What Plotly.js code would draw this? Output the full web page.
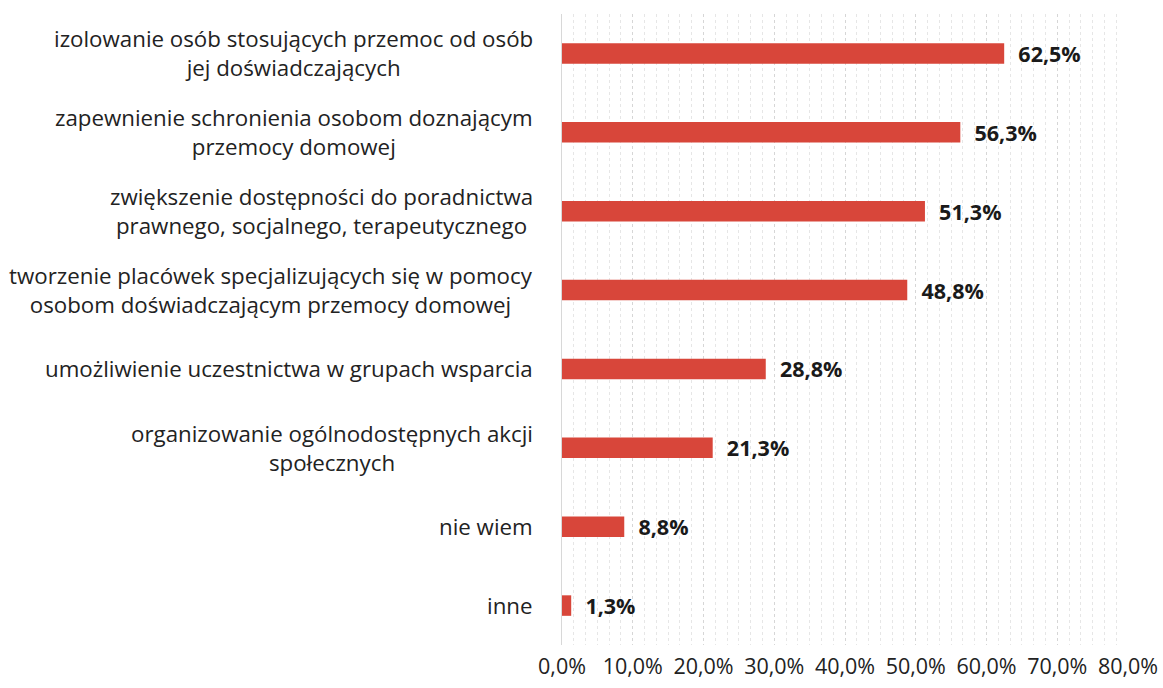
<!DOCTYPE html>
<html>
<head>
<meta charset="utf-8">
<script src="https://cdn.plot.ly/plotly-3.0.1.min.js"></script>
<style>html,body{margin:0;padding:0;background:#fff;}#chart{width:1163px;height:688px;}</style>
</head>
<body>
<div id="chart"></div>
<script>
const categories = [
  "izolowanie osób stosujących przemoc od osób<br>jej doświadczających",
  "zapewnienie schronienia osobom doznającym<br>przemocy domowej",
  "zwiększenie dostępności do poradnictwa<br>prawnego, socjalnego, terapeutycznego",
  "tworzenie placówek specjalizujących się w pomocy<br>osobom doświadczającym przemocy domowej",
  "umożliwienie uczestnictwa w grupach wsparcia",
  "organizowanie ogólnodostępnych akcji<br>społecznych",
  "nie wiem",
  "inne"
];
const values = [62.5, 56.3, 51.3, 48.8, 28.8, 21.3, 8.8, 1.3];
const tickValues = [0, 10, 20, 30, 40, 50, 60, 70, 80];
const tickLabels = ["0,0%", "10,0%", "20,0%", "30,0%", "40,0%", "50,0%", "60,0%", "70,0%", "80,0%"];

const FONT = "'Open Sans', 'Noto Sans', sans-serif";

const trace = {
  type: 'bar',
  orientation: 'h',
  x: values,
  y: categories,
  marker: {color: '#d8463a'},
  width: 0.26,
  texttemplate: '  %{x:.1f}%',
  textposition: 'outside',
  constraintext: 'none',
  cliponaxis: false,
  textfont: {family: FONT, size: 21.5, color: '#1a1a1a', weight: 'bold'},
  hoverinfo: 'none'
};

const annotations = categories.map((c) => ({
  xref: 'paper', yref: 'y', x: -0.047, y: c,
  xanchor: 'right', yanchor: 'middle', align: 'center',
  text: c, showarrow: false,
  font: {family: FONT, size: 22.3, color: '#222222'}
}));

const layout = {
  width: 1163, height: 688,
  margin: {l: 562, r: 35, t: 14, b: 43, pad: 0},
  paper_bgcolor: '#ffffff', plot_bgcolor: '#ffffff',
  separators: ', ',
  showlegend: false,
  font: {family: FONT, size: 20, color: '#222222'},
  xaxis: {
    range: [0, 80], tickmode: 'array', tickvals: tickValues, ticktext: tickLabels,
    showgrid: true, gridcolor: '#d6d6d6', gridwidth: 1, griddash: 'dot',
    minor: {dtick: 10/6, tick0: 0, showgrid: true, gridcolor: '#e6e6e6', griddash: 'dot', gridwidth: 1},
    zeroline: false, showline: false, ticks: '',
    tickfont: {family: FONT, size: 21.5, color: '#222222'},
    ticklabelstandoff: 6, fixedrange: true
  },
  yaxis: {
    categoryorder: 'array', categoryarray: categories, autorange: 'reversed',
    showticklabels: false, showgrid: false, zeroline: false,
    showline: true, linecolor: '#d8d8d8', linewidth: 1,
    ticks: '', fixedrange: true
  },
  annotations: annotations
};

Plotly.newPlot('chart', [trace], layout, {staticPlot: true, displayModeBar: false});
</script>
</body>
</html>
